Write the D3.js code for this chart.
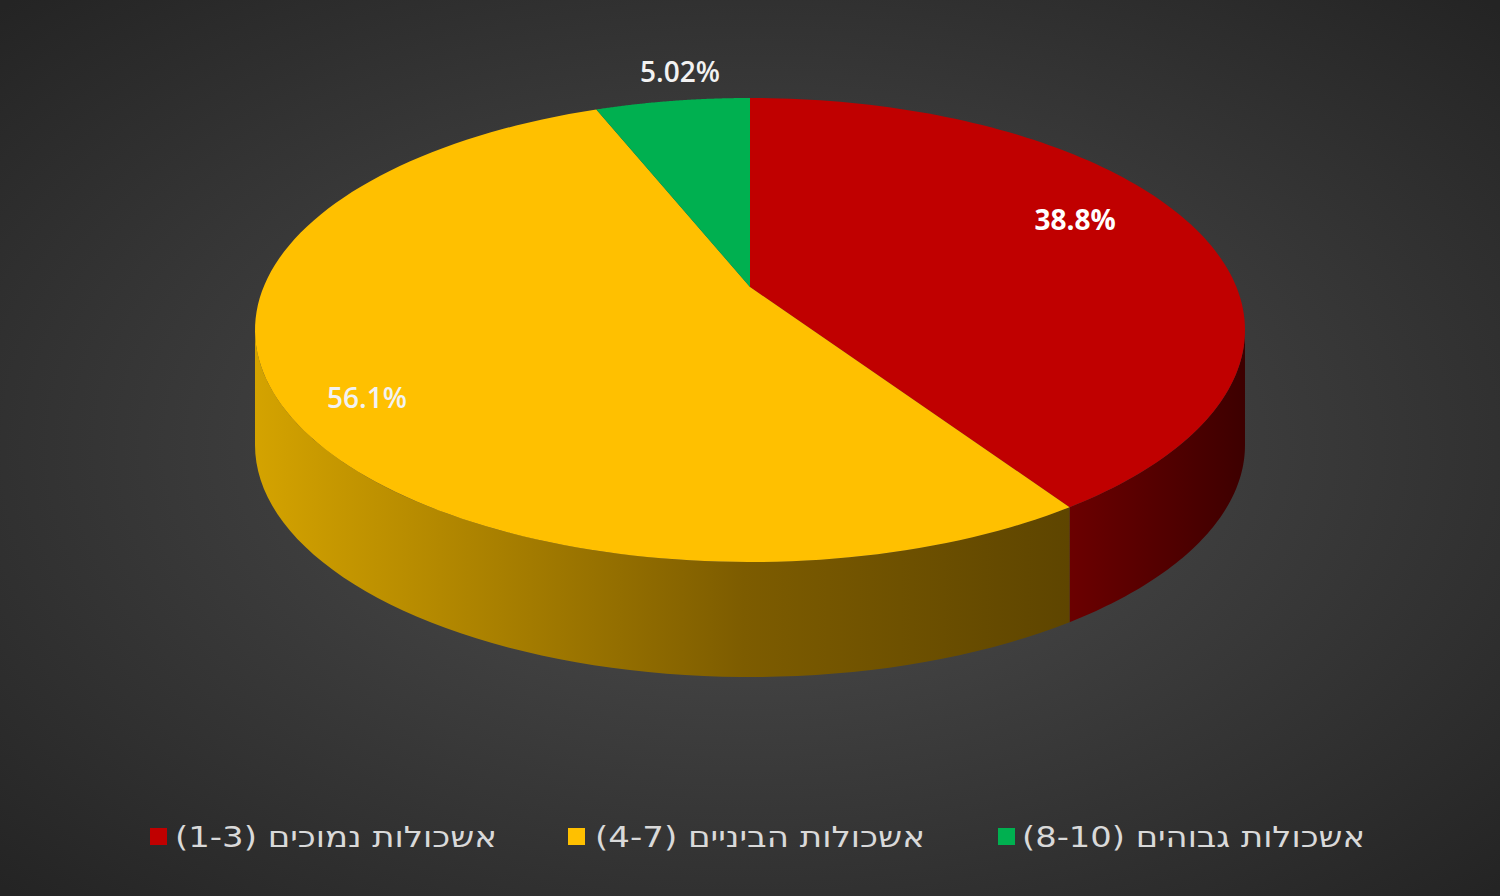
<!DOCTYPE html>
<html><head><meta charset="utf-8">
<script src="https://cdn.jsdelivr.net/npm/d3@7"></script>
<style>body{margin:0;background:#333}</style></head>
<body><svg id="c" width="1500" height="896"></svg>
<script>
const categories = ["אשכולות נמוכים (1-3)", "אשכולות הביניים (4-7)", "אשכולות גבוהים (8-10)"];
const values = [38.8, 56.1, 5.02];
const labels = ["38.8%", "56.1%", "5.02%"];
const colors = ["#c00000", "#ffc000", "#00b050"];

const svg = d3.select("#c");
const defs = svg.append("defs");
const bg = defs.append("radialGradient").attr("id","bg").attr("cx","50%").attr("cy","50%").attr("r","70%");
bg.append("stop").attr("offset","0%").attr("stop-color","#515151");
bg.append("stop").attr("offset","100%").attr("stop-color","#242424");
svg.append("rect").attr("width",1500).attr("height",896).attr("fill","url(#bg)");

const sideGrad = [
  [["0%","#6b0000"],["100%","#3d0000"]],
  [["0%","#d4a300"],["60%","#7d5c00"],["100%","#5e4500"]],
  [["0%","#007a3a"],["100%","#004020"]]
];
sideGrad.forEach((s,i)=>{
  const g = defs.append("linearGradient").attr("id","sg"+i).attr("x1","0").attr("x2","1").attr("y1","0").attr("y2","0");
  s.forEach(st=>g.append("stop").attr("offset",st[0]).attr("stop-color",st[1]));
});

const cx = 750, cy = 330, rx = 495, ry = 232, depth = 115, apexY = 287;
const pt = (a, dy=0) => [cx + rx*Math.sin(a), cy - ry*Math.cos(a) + dy];
const arcs = d3.pie().sort(null).value(d=>d)(values);

arcs.forEach((a,i)=>{
  const s = Math.max(a.startAngle, Math.PI/2), e = Math.min(a.endAngle, 3*Math.PI/2);
  if (e <= s) return;
  const n = 60;
  const top = d3.range(n+1).map(k=>pt(s+(e-s)*k/n));
  const bot = top.map(p=>[p[0], p[1]+depth]).reverse();
  svg.append("path").attr("d", d3.line()(top.concat(bot))+"Z").attr("fill", "url(#sg"+i+")");
});

arcs.forEach((a,i)=>{
  const n = 120;
  const pts = [[cx,apexY]].concat(d3.range(n+1).map(k=>pt(a.startAngle+(a.endAngle-a.startAngle)*k/n)));
  svg.append("path").attr("d", d3.line()(pts)+"Z").attr("fill", colors[i]);
});

const labelPos = [[1075,220],[367,398],[680,72]];
const labelCol = ["#ffffff","#f2f2f2","#f2f2f2"];
labels.forEach((t,i)=>{
  svg.append("text").attr("x",labelPos[i][0]).attr("y",labelPos[i][1]).attr("dy","0.35em")
    .attr("text-anchor","middle").attr("font-family","Open Sans, sans-serif").attr("font-size",28)
    .attr("font-weight",i===0?"bold":"600").attr("fill",labelCol[i]).text(t);
});

const legRight = [497, 925, 1365], legSq = [150, 568, 998], legLen = [322, 330, 343];
categories.forEach((c,i)=>{
  svg.append("rect").attr("x",legSq[i]).attr("y",828).attr("width",17).attr("height",17).attr("fill",colors[i]);
  svg.append("text").attr("x",legRight[i]).attr("y",837).attr("dy","0.35em")
    .attr("direction","rtl").attr("text-anchor","start")
    .attr("textLength",legLen[i]).attr("lengthAdjust","spacingAndGlyphs")
    .attr("font-family","DejaVu Sans, sans-serif").attr("font-size",29).attr("fill","#d9d9d9").text(c);
});
</script></body></html>
